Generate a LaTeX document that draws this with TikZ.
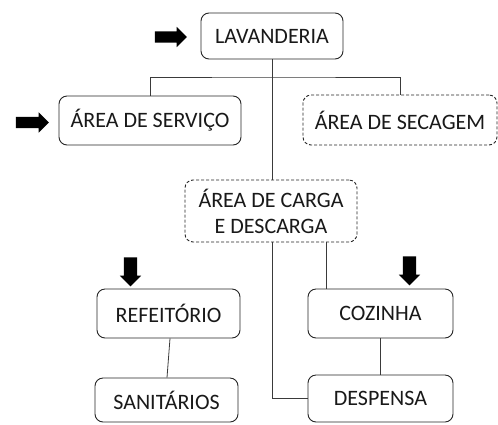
\documentclass[tikz,border=0pt]{standalone}
\usepackage{fontspec}
\setmainfont{Carlito}
\usetikzlibrary{shapes.arrows}
\usetikzlibrary{positioning}
\definecolor{linegray}{HTML}{3A3A3A}
\tikzset{
    area/.style = {draw=black!85, rounded corners=8pt, line width=0.9pt,
                   font=\fontsize{22}{26}\selectfont, text=black!90,
                   align=center, inner sep=0pt
    },
    planned area/.style = {area, dashed, dash pattern=on 3pt off 2pt},
    link/.style = {draw=linegray, line width=0.8pt},
    entry arrow/.style = {single arrow, fill=black, draw=none, inner xsep=0pt,
                          single arrow head indent=0pt,
    },
}
\begin{document}
\begin{tikzpicture}[x=1pt, y=-1pt]
    \useasboundingbox[fill=white] (0,0) rectangle (498,424);
    \node (lav) [area, minimum width=142pt, minimum height=46pt] at (272,36) {LAVANDERIA};
    \node (serv) [area, minimum width=182pt, minimum height=49pt] at (150,120.5) {ÁREA DE SERVIÇO};
    \node (sec) [planned area, minimum width=194pt, minimum height=50pt] at (400,120) {ÁREA DE SECAGEM};
    \node (carga) [planned area, minimum width=172pt, minimum height=62pt] at (271,211)
              {ÁREA DE CARGA\\E DESCARGA};
    \node (ref) [area, minimum width=143pt, minimum height=49pt] at (168.5,313.5) {REFEITÓRIO};
    \node (san) [area, minimum width=143pt, minimum height=44pt] at (166.5,400) {SANITÁRIOS};
    \node (coz) [area, minimum width=145pt, minimum height=49pt] at (380.5,313.5) {COZINHA};
    \node (desp) [area, minimum width=145pt, minimum height=47pt] at (380.5,398.5) {DESPENSA};
    \coordinate (bus) at (272,77);
    \node (a1) [entry arrow, inner ysep=5.5pt, minimum height=32pt,
                single arrow head extend=4.5pt] at (168,37) {};
    \node (a2) [entry arrow, inner ysep=5.5pt, minimum height=33pt,
                single arrow head extend=4.5pt] at (29.5,122.5) {};
    \node (a3) [entry arrow, rotate=-90, inner ysep=6.5pt, minimum height=29pt,
                single arrow head extend=4pt] at (130.5,268.5) {};
    \node (a4) [entry arrow, rotate=-90, inner ysep=6.5pt, minimum height=29pt,
                single arrow head extend=4pt] at (409.5,267.5) {};
    \draw[link] (lav.south) -- (lav.south |- carga.north);
    \draw[link] (serv.north) |- (bus) -| (sec.north);
    \draw[link] ([xshift=1pt]carga.south) |- (desp.west);
    \draw[link] ([xshift=19pt]coz.north west) -- ([xshift=19pt]coz.north west |- carga.south);
    \draw[link] ([xshift=1.5pt]ref.south) -- ([xshift=0.5pt]san.north);
    \draw[link] (coz.south) -- (desp.north);
\end{tikzpicture}
\end{document}
